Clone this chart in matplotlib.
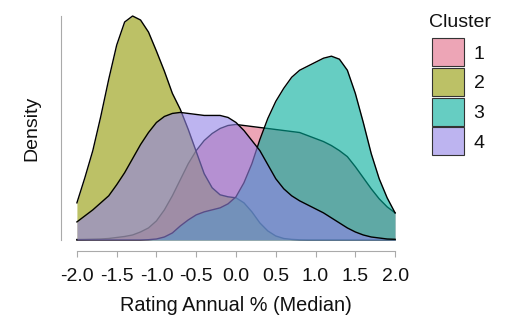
import matplotlib
matplotlib.use("Agg")
import matplotlib.pyplot as plt
from matplotlib.colors import to_rgba
from matplotlib.patches import Rectangle

plt.rcParams["font.family"] = ["Liberation Sans", "DejaVu Sans"]

x = [-2.0, -1.9, -1.8, -1.7, -1.6, -1.5, -1.4, -1.3, -1.2, -1.1,
     -1.0, -0.9, -0.8, -0.7, -0.6, -0.5, -0.4, -0.3, -0.2, -0.1,
     0.0, 0.1, 0.2, 0.3, 0.4, 0.5, 0.6, 0.7, 0.8, 0.9,
     1.0, 1.1, 1.2, 1.3, 1.4, 1.5, 1.6, 1.7, 1.8, 1.9, 2.0]

cluster1 = [0.5, 0.6, 0.8, 1.0, 1.5, 2.5, 3.5, 5, 8, 12,
            19, 30, 44, 60, 76, 89, 99, 106, 111, 114,
            115, 114, 113, 112, 111, 110, 109, 108, 107, 104,
            101, 98, 94, 89, 83, 73, 62, 51, 41, 33, 27]
cluster2 = [37, 62, 89, 123, 160, 194, 217, 223, 219, 207,
            188, 168, 146, 130, 110, 88, 66, 52, 45, 43,
            42, 37, 28, 17, 9, 4, 1.5, 0.6, 0.2, 0.1,
            0.1, 0.1, 0.1, 0.1, 0.1, 0.1, 0.1, 0.1, 0.1, 0.1, 0.1]
cluster3 = [0, 0, 0, 0, 0, 0, 0, 0, 0, 0.3,
            1, 3, 7, 14, 20, 25, 28, 30, 32, 36,
            43, 57, 76, 100, 121, 138, 151, 162, 169, 173,
            177, 181, 183, 180, 169, 146, 117, 86, 61, 42, 27]
cluster4 = [18, 24, 30, 37, 44, 55, 67, 81, 95, 107,
            117, 123, 126, 127, 126, 125, 124, 124, 124, 122,
            117, 109, 99, 89, 75, 61, 51, 44, 39, 35,
            31, 27, 22, 17, 12, 8, 5, 3, 2, 1, 0.7]

clusters = ["1", "2", "3", "4"]
colors = ["#E16A86", "#909800", "#00AD9A", "#9183E6"]
xticks = [-2.0, -1.5, -1.0, -0.5, 0.0, 0.5, 1.0, 1.5, 2.0]
xtick_labels = ["-2.0", "-1.5", "-1.0", "-0.5", "0.0", "0.5", "1.0", "1.5", "2.0"]

W, H = 508, 317
fig = plt.figure(figsize=(W / 100, H / 100), dpi=100)
ax = fig.add_axes([61 / W, (H - 251.2) / H, 350 / W, 246.4 / H])

series = [cluster1, cluster2, cluster3, cluster4]
for i, (y, c) in enumerate(zip(series, colors)):
    ax.fill_between(x, y, 0, color=c, alpha=0.6, lw=0, zorder=2 + 2 * i)
    ax.plot(x, y, color="black", lw=1.0, zorder=3 + 2 * i)

ymax = max(max(s) for s in series)
ax.set_xlim(-2.2, 2.2)
ax.set_ylim(-0.05 * ymax, 1.05 * ymax)

for side in ["top", "right"]:
    ax.spines[side].set_visible(False)
ax.spines["left"].set_bounds(0, ymax)
ax.spines["bottom"].set_bounds(-2, 2)
for side in ["left", "bottom"]:
    ax.spines[side].set_color("#aaaaaa")
    ax.spines[side].set_linewidth(0.8)

ax.set_yticks([])
ax.set_xticks(xticks)
ax.set_xticklabels(xtick_labels)
ax.tick_params(axis="x", length=4.3, width=0.8, color="#aaaaaa",
               labelsize=14, labelcolor="#111111", pad=7.5)

ax.set_xlabel("Rating Annual % (Median)", fontsize=14.3, color="#111111")
ax.xaxis.set_label_coords(0.5, -0.182)
ax.set_ylabel("Density", fontsize=14, color="#111111")
ax.yaxis.set_label_coords(-0.06, 0.5)

# legend drawn by hand so the keys sit flush like ggplot's
fig.text(429 / W, 1 - 27 / H, "Cluster", fontsize=14, color="#111111",
         ha="left", va="baseline")
key_top, key_step, key_h, key_w = 38.3, 29.7, 28.0, 32.0
for i, (lab, c) in enumerate(zip(clusters, colors)):
    top = key_top + key_step * i
    fig.add_artist(Rectangle((431.7 / W, 1 - (top + key_h) / H), key_w / W, key_h / H,
                             transform=fig.transFigure, facecolor=to_rgba(c, 0.6),
                             edgecolor="#333333", lw=0.8))
    fig.text(479 / W, 1 - (top + key_h / 2) / H, lab, fontsize=14, color="#111111",
             ha="center", va="center_baseline")

fig.savefig("out.png", dpi=100)
